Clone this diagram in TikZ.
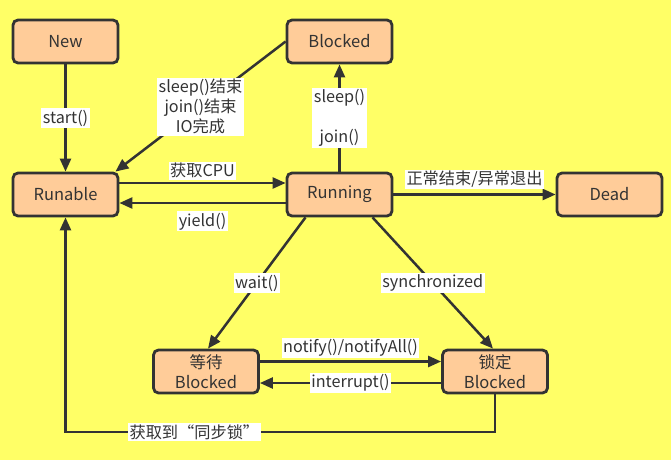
\documentclass[tikz,border=0pt]{standalone}
\usepackage{fontspec}
\setmainfont{Noto Sans CJK SC}
\usetikzlibrary{arrows.meta}
\definecolor{bgyellow}{RGB}{255,255,102}
\definecolor{boxfill}{RGB}{255,204,153}
\definecolor{ink}{RGB}{51,51,51}
\tikzset{
  state/.style={draw=ink, line width=2.8pt, fill=boxfill, rounded corners=5pt,
    minimum width=105pt, minimum height=43pt, inner sep=0pt, align=center,
    text=ink, font=\fontsize{16.5}{19.5}\selectfont},
  arr/.style={draw=ink, line width=2.5pt, -{Triangle[length=13pt,width=11pt]}},
  lbl/.style={fill=white, inner sep=1.5pt, text=ink, align=center,
    font=\fontsize{16.2}{20}\selectfont}
}
\begin{document}
\begin{tikzpicture}[x=1pt,y=-1pt]
\fill[bgyellow] (0,0) rectangle (671,460);
\useasboundingbox (0,0) rectangle (671,460);
\node[state] (new) at (65.5,41.5) {New};
\node[state] (blk) at (339.5,41.5) {Blocked};
\node[state] (run) at (65.5,194.5) {Runable};
\node[state] (ing) at (339.5,194.5) {Running};
\node[state] (dead) at (609.5,194.5) {Dead};
\node[state] (wait) at (206,371.5) {等待\\Blocked};
\node[state] (lock) at (495,371.5) {锁定\\Blocked};
\coordinate (c1) at (495,432);
\coordinate (c2) at (65.5,432);

\draw[arr] (new) -- node[lbl]{start()} (run);
\draw[arr] (blk.west) -- node[lbl]{sleep()结束\\join()结束\\IO完成} ([xshift=-4pt]run.north east);
\draw[arr] (ing) -- node[lbl]{sleep()\\\mbox{}\\join()} (blk);
\draw[arr] ([yshift=11.5pt]run.east) -- node[lbl,above=2pt]{获取CPU} ([yshift=11.5pt]ing.west);
\draw[arr] ([yshift=-8.5pt]ing.west) -- node[lbl,below=7pt]{yield()} ([yshift=-8.5pt]run.east);
\draw[arr] (ing) -- node[lbl,above=4pt]{正常结束/异常退出} (dead);
\draw[arr] ([xshift=-34pt]ing.south) -- node[lbl]{wait()} ([xshift=2pt]wait.north);
\draw[arr] ([xshift=33pt]ing.south) -- node[lbl]{synchronized} ([xshift=-2pt]lock.north);
\draw[arr] ([yshift=10pt]wait.east) -- node[lbl,above=2pt]{notify()/notifyAll()} ([yshift=10pt]lock.west);
\draw[arr] ([yshift=-11.5pt]lock.west) -- node[lbl]{interrupt()} ([yshift=-11.5pt]wait.east);
\draw[arr] (lock.south) -- (c1) -- node[lbl,pos=0.7]{获取到“同步锁”} (c2) -- (run.south);
\end{tikzpicture}
\end{document}
